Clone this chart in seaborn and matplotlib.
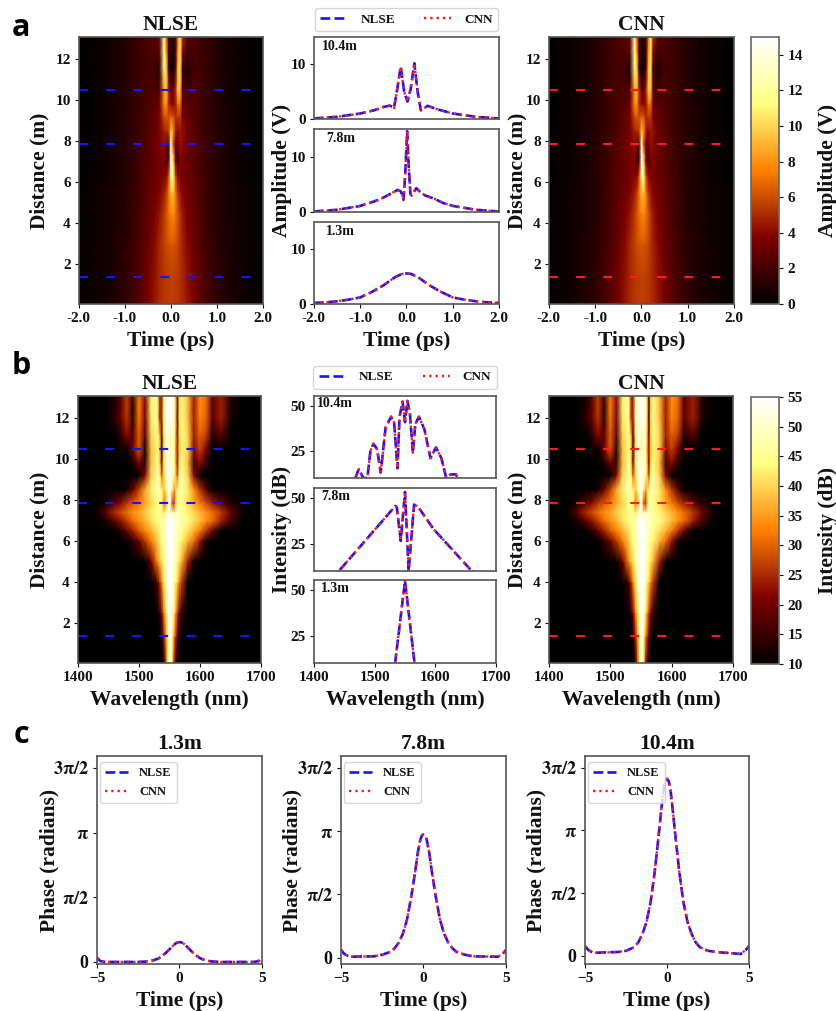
import numpy as np
import matplotlib
matplotlib.use("Agg")
import matplotlib.pyplot as plt
import seaborn as sns

# amplitude map, rows = distance, columns = time
amp_time = [-2, -1.5, -1, -0.7, -0.5, -0.35, -0.25, -0.15, -0.1, -0.05, 0, 0.05, 0.1, 0.15, 0.2, 0.25, 0.35, 0.5, 0.7, 1, 1.5, 2]
amp_dist = [0.05, 1.35, 3, 4.5, 5.5, 6.3, 7, 7.4, 7.85, 8.5, 9.2, 9.8, 10.47, 11.5, 12.3, 13.07]
amp_grid = [
    [.2, .5, 1.3, 2.4, 3.5, 4.4, 5.0, 5.4, 5.5, 5.6, 5.6, 5.6, 5.5, 5.4, 5.2, 5.0, 4.4, 3.5, 2.4, 1.3, .5, .2],
    [.2, .5, 1.3, 2.4, 3.4, 4.3, 4.9, 5.3, 5.4, 5.5, 5.6, 5.6, 5.5, 5.4, 5.1, 4.9, 4.3, 3.4, 2.4, 1.3, .5, .2],
    [.2, .5, 1.2, 2.2, 3.1, 4.0, 4.9, 5.6, 6.0, 6.2, 6.3, 6.3, 6.1, 5.8, 5.3, 4.8, 4.0, 3.1, 2.2, 1.2, .5, .2],
    [.2, .5, 1.1, 2.1, 2.9, 3.6, 4.3, 5.4, 6.2, 7.0, 7.7, 7.9, 7.2, 6.2, 5.2, 4.4, 3.6, 2.9, 2.1, 1.1, .5, .2],
    [.2, .5, 1.1, 2.0, 2.8, 3.3, 3.8, 4.6, 5.4, 7.0, 9.0, 9.3, 7.3, 5.2, 4.4, 3.9, 3.4, 2.8, 2.0, 1.1, .5, .2],
    [.1, .4, 1.1, 1.9, 2.7, 3.1, 3.5, 3.9, 3.9, 6.0, 12, 11.5, 6.0, 4.0, 3.9, 3.5, 3.1, 2.7, 1.9, 1.1, .4, .1],
    [.1, .4, 1.1, 1.9, 2.6, 3.0, 3.4, 3.6, 2.4, 2.6, 14.5, 10, 3.4, 2.2, 3.6, 3.6, 3.0, 2.6, 1.9, 1.1, .4, .1],
    [.1, .4, 1.1, 1.9, 2.6, 3.2, 3.6, 3.9, 2.6, 2.0, 14, 8.5, 2.8, 2.4, 4.0, 3.9, 3.1, 2.7, 1.9, 1.1, .4, .1],
    [.1, .4, 1.1, 1.9, 2.6, 3.3, 3.8, 4.0, 3.3, 2.4, 14, 6.0, 3.0, 3.4, 4.3, 4.0, 3.2, 2.8, 1.9, 1.1, .4, .1],
    [.1, .4, 1.1, 1.8, 2.5, 3.0, 3.7, 4.7, 5.0, 5.5, 9.5, 8.0, 4.5, 4.0, 4.5, 4.2, 3.2, 2.6, 1.8, 1.1, .4, .1],
    [.1, .4, 1.1, 1.8, 2.4, 3.0, 3.5, 6.0, 6.5, 6.0, 6.5, 6.2, 5.0, 5.5, 5.5, 3.5, 3.0, 2.5, 1.8, 1.1, .4, .1],
    [.1, .4, 1.0, 1.7, 2.3, 2.6, 3.0, 7.5, 8.0, 5.0, 4.2, 4.0, 4.5, 7.0, 7.0, 3.0, 2.5, 2.4, 1.7, 1.0, .4, .1],
    [.1, .4, 1.0, 1.7, 2.2, 2.4, 2.0, 8.0, 9.5, 5.0, 3.3, 3.3, 5.0, 9.5, 9.5, 3.0, 1.8, 2.4, 1.7, 1.0, .4, .1],
    [.1, .4, 1.0, 1.7, 2.1, 1.8, 1.0, 11, 10, 2.0, .6, .6, 2.5, 9.0, 10.5, 2.0, .8, 2.1, 1.7, 1.0, .4, .1],
    [.1, .4, 1.0, 1.7, 2.2, 2.3, 2.2, 12, 8.5, 2.0, 1.0, 1.0, 2.0, 8.0, 11, 4.0, 1.8, 2.2, 1.7, 1.0, .4, .1],
    [.1, .4, 1.0, 1.7, 2.3, 2.5, 3.0, 12, 7.0, 2.0, 1.5, 1.5, 2.0, 7.0, 11, 5.0, 2.5, 2.3, 1.7, 1.0, .4, .1],
]

# spectrum map, rows = distance, columns = wavelength
spec_lam = [1400, 1430, 1445, 1460, 1470, 1480, 1490, 1500, 1510, 1520, 1530, 1534, 1537, 1541, 1545, 1548, 1551, 1554, 1558, 1560, 1563, 1566, 1570, 1580, 1590, 1600, 1610, 1620, 1635, 1650, 1670, 1700]
spec_dist = [0.05, 1.35, 2.5, 4, 5, 6, 6.5, 7, 7.4, 7.85, 8.5, 9.2, 9.8, 10.47, 11.2, 12, 13.07]
spec_grid = [
    [10, 10, 10, 10, 10, 10, 10, 10, 10, 10, 10, 10, 10, 12, 30, 44, 53, 44, 22, 16, 10, 10, 10, 10, 10, 10, 10, 10, 10, 10, 10, 10],
    [10, 10, 10, 10, 10, 10, 10, 10, 10, 10, 10, 10, 13, 24, 36, 47, 55, 47, 33, 27, 18, 13, 10, 10, 10, 10, 10, 10, 10, 10, 10, 10],
    [10, 10, 10, 10, 10, 10, 10, 10, 10, 10, 11, 14, 20, 32, 42, 52, 55, 52, 42, 36, 27, 20, 14, 10, 10, 10, 10, 10, 10, 10, 10, 10],
    [10, 10, 10, 10, 10, 10, 10, 10, 10, 10, 16, 25, 32, 42, 48, 54, 55, 54, 48, 44, 40, 33, 26, 10, 10, 10, 10, 10, 10, 10, 10, 10],
    [10, 10, 10, 10, 10, 10, 10, 10, 10, 20, 33, 38, 41, 46, 50, 54, 55, 55, 50, 47, 44, 41, 37, 24, 11, 10, 10, 10, 10, 10, 10, 10],
    [10, 10, 10, 10, 10, 10, 14, 20, 26, 32, 39, 42, 44, 47, 51, 54, 55, 55, 52, 50, 47, 45, 43, 37, 31, 23, 12, 10, 10, 10, 10, 10],
    [10, 10, 10, 10, 13, 19, 24, 29, 33, 37, 41, 43, 45, 48, 52, 54, 55, 55, 52, 51, 49, 47, 45, 41, 37, 32, 26, 19, 10, 10, 10, 10],
    [10, 10, 12, 19, 23, 27, 31, 34, 37, 41, 44, 46, 47, 49, 52, 54, 55, 54, 52, 51, 50, 49, 47, 44, 41, 38, 34, 31, 24, 16, 10, 10],
    [10, 11, 18, 25, 28, 31, 34, 36, 39, 42, 44, 45, 45, 42, 48, 54, 52, 48, 48, 49, 49, 48, 46, 43, 40, 37, 34, 31, 26, 19, 11, 10],
    [10, 10, 12, 18, 22, 26, 29, 32, 36, 40, 44, 45, 44, 32, 36, 50, 53, 30, 25, 36, 45, 46, 45, 41, 36, 32, 28, 24, 18, 13, 10, 10],
    [10, 10, 10, 10, 10, 12, 20, 27, 36, 43, 48, 47, 44, 38, 44, 52, 54, 46, 34, 40, 46, 47, 47, 42, 34, 26, 18, 11, 10, 10, 10, 10],
    [10, 10, 10, 10, 10, 10, 10, 10, 22, 40, 47, 44, 30, 40, 50, 52, 54, 50, 46, 40, 28, 44, 47, 40, 22, 10, 10, 10, 10, 10, 10, 10],
    [10, 10, 10, 10, 10, 10, 12, 20, 14, 38, 46, 40, 22, 42, 50, 52, 52, 52, 46, 38, 22, 40, 44, 38, 16, 22, 14, 10, 10, 10, 10, 10],
    [10, 10, 10, 10, 12, 11, 20, 29, 13, 38, 44, 40, 16, 40, 52, 50, 44, 53, 44, 36, 24, 38, 43, 40, 22, 27, 21, 10, 10, 10, 10, 10],
    [10, 10, 10, 10, 14, 22, 18, 30, 18, 40, 45, 38, 18, 42, 53, 50, 46, 54, 46, 38, 20, 40, 44, 40, 24, 30, 27, 14, 18, 10, 10, 10],
    [10, 10, 10, 14, 19, 26, 14, 32, 20, 42, 46, 26, 24, 44, 54, 52, 55, 55, 48, 40, 18, 40, 45, 38, 24, 33, 30, 18, 24, 12, 10, 10],
    [10, 10, 10, 12, 18, 27, 15, 33, 22, 43, 47, 26, 24, 45, 54, 52, 55, 55, 48, 40, 18, 40, 45, 38, 24, 34, 31, 18, 24, 13, 10, 10],
]

# line cuts, amplitude
t_13 = [-2, -1.75, -1.5, -1.25, -1, -0.75, -0.5, -0.25, -0.1, 0, 0.1, 0.25, 0.5, 0.75, 1, 1.25, 1.5, 1.75, 2]
amp_13 = [.2, .3, .5, .8, 1.2, 2.2, 3.4, 4.9, 5.5, 5.6, 5.5, 4.9, 3.4, 2.2, 1.2, .8, .5, .3, .2]
t_78 = [-2, -1.5, -1, -0.7, -0.5, -0.3, -0.19, -0.12, -0.065, -0.03, 0.014, 0.05, 0.085, 0.115, 0.21, 0.3, 0.4, 0.6, 0.8, 1, 1.5, 2]
amp_78 = [.1, .4, 1.1, 1.9, 2.6, 3.5, 4.0, 3.7, 2.2, 6.5, 14.6, 8, 3.2, 3.0, 4.3, 3.6, 3.0, 2.4, 1.6, 1.1, .4, .1]
t_104 = [-2, -1.5, -1, -0.7, -0.5, -0.36, -0.27, -0.2, -0.125, -0.05, 0.02, 0.09, 0.17, 0.24, 0.31, 0.455, 0.7, 1, 1.5, 2]
amp_104 = [.1, .4, 1.0, 1.6, 2.2, 2.45, 2.0, 5.5, 9.6, 5.0, 3.2, 5.5, 10.2, 5.0, 1.6, 2.4, 1.7, 1.0, .4, .1]

# line cuts, spectrum
lam_13 = [1533.7, 1550, 1565.7]
spec_13 = [10, 55, 10]
lam_78 = [1400, 1441, 1509, 1534, 1536.5, 1543, 1550, 1556, 1565, 1572, 1597, 1660, 1700]
spec_78 = [5, 10, 36, 45.6, 45, 26.5, 53.3, 10, 46.4, 45, 33, 10, 5]
lam_104 = [1400, 1468, 1474, 1481, 1488, 1493, 1498, 1504, 1510, 1518, 1527, 1532, 1537.6, 1541, 1546, 1550, 1554, 1558, 1563, 1567, 1573, 1582, 1592, 1601, 1610, 1618, 1625, 1634, 1637, 1700]
spec_104 = [5, 10, 15, 10, 10, 25, 29, 26, 13, 38, 44, 41, 15.4, 44, 52.4, 41, 52.8, 46, 24, 40, 44, 37, 21, 27, 21, 10, 12, 12, 10, 5]

# phase
t_phase = [-5, -4.8, -4.5, -3, -2.5, -2, -1.75, -1.5, -1.25, -1, -0.75, -0.5, -0.35, -0.2, -0.1, 0, 0.1, 0.2, 0.35, 0.5, 0.75, 1, 1.25, 1.5, 1.75, 2, 2.5, 3, 4.5, 4.8, 5]
phase_13 = [.1, .02, 0, 0, 0, .01, .025, .05, .09, .16, .25, .35, .41, .46, .475, .48, .475, .46, .41, .35, .25, .16, .09, .05, .025, .01, 0, 0, 0, .02, .12]
phase_78 = [.2, .1, .03, .04, .08, .15, .24, .38, .6, .95, 1.5, 2.15, 2.6, 2.92, 3.03, 3.06, 3.03, 2.92, 2.6, 2.15, 1.5, .95, .6, .38, .24, .15, .08, .04, .03, .1, .2]
phase_104 = [.25, .15, .08, .1, .13, .22, .34, .55, .85, 1.35, 2.1, 3.05, 3.65, 4.2, 4.38, 4.43, 4.38, 4.2, 3.65, 3.05, 2.1, 1.35, .85, .55, .34, .22, .13, .1, .05, .15, .25]

cuts = [10.47, 7.85, 1.35]
cut_names = ["10.4m", "7.8m", "1.3m"]

W, H = 837, 1011
sns.set_theme(style="ticks", rc={"axes.unicode_minus": False, "mathtext.fontset": "stix"})
plt.rcParams["font.family"] = ["Liberation Serif", "DejaVu Serif"]
plt.rcParams["font.weight"] = "bold"
plt.rcParams["axes.labelweight"] = "bold"
plt.rcParams["axes.titleweight"] = "bold"
plt.rcParams["axes.edgecolor"] = "#555555"
plt.rcParams["axes.linewidth"] = 1.2
plt.rcParams["xtick.color"] = "#111111"
plt.rcParams["ytick.color"] = "#111111"
plt.rcParams["xtick.major.size"] = 3
plt.rcParams["ytick.major.size"] = 3
plt.rcParams["xtick.major.width"] = 0.8
plt.rcParams["ytick.major.width"] = 0.8
plt.rcParams["xtick.major.pad"] = 3
plt.rcParams["ytick.major.pad"] = 3
plt.rcParams["text.color"] = "#111111"
plt.rcParams["axes.labelcolor"] = "#111111"

fig = plt.figure(figsize=(W / 100, H / 100), dpi=100)
cmap = sns.color_palette("afmhot", as_cmap=True)
LAB = 15.5
TICK = 11


def add_ax(x0, y0, x1, y1):
    return fig.add_axes([x0 / W, 1 - y1 / H, (x1 - x0) / W, (y1 - y0) / H])


def draw_pair(ax, x, y):
    sns.lineplot(x=x, y=y, ax=ax, color="#1414ff", linestyle="--", lw=1.9, label="NLSE", legend=False)
    sns.lineplot(x=x, y=y, ax=ax, color="#ff1a1a", linestyle=":", lw=1.7, label="CNN", legend=False)


def heat_panel(x0, y0, x1, y1, xs, ys, grid, vmin, vmax, title, dash_col, xlim, xticks, xlabs, xlabel, ylab_x):
    ax = add_ax(x0, y0, x1, y1)
    mesh = ax.pcolormesh(xs, ys, np.array(grid, dtype=float), shading="gouraud", cmap=cmap, vmin=vmin, vmax=vmax)
    for d in cuts:
        sns.lineplot(x=list(xlim), y=[d, d], ax=ax, color=dash_col, lw=1.5, legend=False)
        ax.lines[-1].set_dashes((4.3, 8.7))
    ax.set_xlim(*xlim)
    ax.set_ylim(0.05, 13.07)
    ax.set_xticks(xticks)
    ax.set_xticklabels(xlabs, fontsize=TICK)
    ax.set_yticks([2, 4, 6, 8, 10, 12])
    ax.tick_params(axis="y", labelsize=TICK)
    ax.set_xlabel(xlabel, fontsize=LAB, labelpad=4)
    ax.set_ylabel("Distance (m)", fontsize=LAB)
    ax.yaxis.set_label_coords(ylab_x, 0.5)
    ax.set_title(title, fontsize=LAB, pad=5)
    return mesh


def cut_panels(x0, x1, boxes, series, xlim, xticks, xlabs, xlabel, ylim, yticks, ylabel, text_pos, legend_y):
    axes = []
    for (y0, y1), (x, y), name, pos in zip(boxes, series, cut_names, text_pos):
        ax = add_ax(x0, y0, x1, y1)
        draw_pair(ax, x, y)
        ax.set_xlim(*xlim)
        ax.set_ylim(*ylim)
        ax.set_yticks(yticks)
        ax.tick_params(axis="y", labelsize=TICK)
        ax.set_xticks(xticks)
        ax.tick_params(axis="x", bottom=False, labelbottom=False)
        ax.text(pos[0], pos[1], name, transform=ax.transAxes, fontsize=10, va="center")
        axes.append(ax)
    axes[-1].tick_params(axis="x", bottom=True, labelbottom=True)
    axes[-1].set_xticklabels(xlabs, fontsize=TICK)
    axes[-1].set_xlabel(xlabel, fontsize=LAB, labelpad=4)
    axes[0].legend(loc="lower center", bbox_to_anchor=(0.5, legend_y), ncol=2, fontsize=9.5,
                   handlelength=2.05, handletextpad=1.0, columnspacing=2.2, borderaxespad=0)
    fig.text(282 / W, 1 - (boxes[0][0] + boxes[-1][1]) / 2 / H, ylabel, rotation=90, fontsize=LAB,
             fontweight="bold", ha="center", va="center")


def colorbar(mesh, y0, y1, ticks, label):
    cax = add_ax(751, y0, 779, y1)
    cb = fig.colorbar(mesh, cax=cax)
    cb.set_ticks(ticks)
    cb.ax.tick_params(labelsize=TICK)
    cb.outline.set_edgecolor("#666666")
    cb.set_label(label, fontsize=LAB, labelpad=11)


# row a
t_ticks = [-2, -1, 0, 1, 2]
t_labs = ["-2.0", "-1.0", "0.0", "1.0", "2.0"]
heat_panel(79, 37, 263, 304, amp_time, amp_dist, amp_grid, 0, 15, "NLSE", "#1414ff", (-2, 2), t_ticks, t_labs, "Time (ps)", -0.158)
m_a = heat_panel(549, 37, 734, 304, amp_time, amp_dist, amp_grid, 0, 15, "CNN", "#ff1a1a", (-2, 2), t_ticks, t_labs, "Time (ps)", -0.115)
colorbar(m_a, 37, 304, list(range(0, 15, 2)), "Amplitude (V)")
cut_panels(314, 499, [(37, 119), (129, 212), (222, 304)],
           [(t_104, amp_104), (t_78, amp_78), (t_13, amp_13)],
           (-2, 2), t_ticks, t_labs, "Time (ps)", (0, 15), [0, 10], "Amplitude (V)",
           [(0.043, 0.88), (0.065, 0.88), (0.065, 0.88)], 1.07)

# row b
w_ticks = [1400, 1500, 1600, 1700]
w_labs = ["1400", "1500", "1600", "1700"]
heat_panel(78, 396, 261, 663, spec_lam, spec_dist, spec_grid, 10, 55, "NLSE", "#1414ff", (1400, 1700), w_ticks, w_labs, "Wavelength (nm)", -0.158)
m_b = heat_panel(549, 396, 733, 663, spec_lam, spec_dist, spec_grid, 10, 55, "CNN", "#ff1a1a", (1400, 1700), w_ticks, w_labs, "Wavelength (nm)", -0.115)
colorbar(m_b, 397, 664, list(range(10, 56, 5)), "Intensity (dB)")
cut_panels(314, 496, [(396, 478), (488, 571), (580, 663)],
           [(lam_104, spec_104), (lam_78, spec_78), (lam_13, spec_13)],
           (1400, 1700), w_ticks, w_labs, "Wavelength (nm)", (10, 55.5), [25, 50], "Intensity (dB)",
           [(0.017, 0.91), (0.04, 0.90), (0.04, 0.90)], 1.09)

# row c
pi_ticks = [0, np.pi / 2, np.pi, 3 * np.pi / 2]
pi_labs = ["0", r"$\mathbf{\pi/2}$", r"$\mathbf{\pi}$", r"$\mathbf{3\pi/2}$"]
phases = [("1.3m", phase_13, 97, 262, -0.05, 59), ("7.8m", phase_78, 341, 506, -0.15, 302), ("10.4m", phase_104, 585, 749, -0.2, 546)]
for name, ph, x0, x1, ymin, lab_x in phases:
    ax = add_ax(x0, 756, x1, 964)
    draw_pair(ax, t_phase, ph)
    ax.set_xlim(-5, 5)
    ax.set_ylim(ymin, 5.0)
    ax.set_xticks([-5, 0, 5])
    ax.set_xticklabels(["\u22125", "0", "5"], fontsize=TICK)
    ax.set_yticks(pi_ticks)
    ax.set_yticklabels(pi_labs, fontsize=13)
    ax.set_xlabel("Time (ps)", fontsize=LAB, labelpad=4)
    ax.set_ylabel("Phase (radians)", fontsize=LAB)
    ax.yaxis.set_label_coords((lab_x - x0) / (x1 - x0), 0.5)
    ax.set_title(name, fontsize=LAB, pad=5)
    ax.legend(loc="upper left", fontsize=9, handlelength=1.8, handletextpad=0.9, labelspacing=0.55,
              bbox_to_anchor=(0.02, 0.97), borderaxespad=0)

for letter, y in [("a", 28), ("b", 366), ("c", 735)]:
    fig.text(21 / W, 1 - y / H, letter, family="Open Sans", fontweight="bold", fontsize=22, color="black", ha="center", va="center")

fig.savefig("out.png", dpi=100)
